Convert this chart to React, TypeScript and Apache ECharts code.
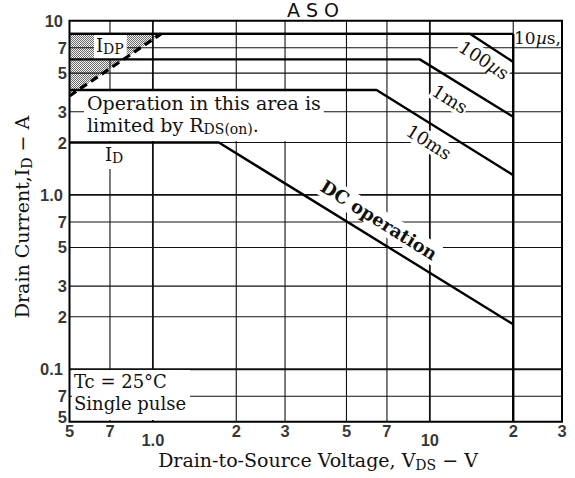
import React, { useEffect, useRef } from 'react';
import * as echarts from 'echarts';

// ---------- axis ranges & ticks ----------
const X_MIN = 0.5;
const X_MAX = 30;
const Y_MIN = 0.05;
const Y_MAX = 10;

const xTickValues = [0.5, 0.7, 1, 2, 3, 5, 7, 10, 20, 30];
const xTickLabels = ['5', '7', '1.0', '2', '3', '5', '7', '10', '2', '3'];
const yTickValues = [10, 7, 5, 3, 2, 1, 0.7, 0.5, 0.3, 0.2, 0.1, 0.07, 0.05];
const yTickLabels = ['10', '7', '5', '3', '2', '1.0', '7', '5', '3', '2', '0.1', '7', '5'];

const xGridValues = [0.7, 1, 2, 3, 5, 7, 10, 20];
const yGridValues = [7, 5, 3, 2, 1, 0.7, 0.5, 0.3, 0.2, 0.1, 0.07];

// ---------- SOA boundaries (VDS [V], ID [A]) ----------
const rdsOnLimit = [[0.5, 3.7], [1.07, 8.4]];
const rdsOnArea = [[0.5, 8.4], [1.07, 8.4], [0.5, 3.7]];
const pulse10us = [[0.5, 8.4], [20, 8.4]];
const pulse100us = [[0.5, 8.4], [14, 8.4], [20, 5.8]];
const pulse1ms = [[0.5, 6], [9.2, 6], [20, 2.81]];
const pulse10ms = [[0.5, 4], [6.42, 4], [20, 1.3]];
const dcOperation = [[0.5, 2], [1.73, 2], [20, 0.181]];
const vdssLimit = [[20, 8.4], [20, 0.05]];

const SERIF = '"DejaVu Serif", serif';
const SANS = '"Liberation Sans", Arial, sans-serif';

const isDecade = (v: number) => Math.abs(Math.log10(v) - Math.round(Math.log10(v))) < 1e-9;

function makeHatch(): any {
  const c = document.createElement('canvas');
  c.width = 2;
  c.height = 2;
  const ctx = c.getContext('2d');
  if (ctx) {
    ctx.fillStyle = '#f2f2f2';
    ctx.fillRect(0, 0, 2, 2);
    ctx.fillStyle = '#6a6a6a';
    ctx.fillRect(0, 0, 1, 1);
    ctx.fillRect(1, 1, 1, 1);
  }
  return { image: c.toDataURL(), repeat: 'repeat', imageWidth: 2, imageHeight: 2 };
}

function richSet(size: number, sub: number, lh: number, weight: string = 'normal') {
  return {
    n: { fontFamily: SERIF, fontSize: size, lineHeight: lh, fontWeight: weight, fill: '#111' },
    s: { fontFamily: SERIF, fontSize: sub, lineHeight: sub, verticalAlign: 'bottom', fontWeight: weight, fill: '#111' },
    i: { fontFamily: SERIF, fontSize: size, lineHeight: lh, fontStyle: 'italic', fontWeight: weight, fill: '#111' },
  };
}

function txt(x: number, y: number, text: string, opts: any = {}) {
  const { rotation = 0, align = 'center', vAlign = 'middle', size = 18, sub = 13, lh = 22, bg, padding, weight, z = 5 } = opts;
  return {
    type: 'text',
    x,
    y,
    rotation,
    z,
    style: {
      text,
      fill: '#111',
      font: `${size}px ${SERIF}`,
      align,
      verticalAlign: vAlign,
      textAlign: align,
      textVerticalAlign: vAlign,
      rich: richSet(size, sub, lh, weight),
      backgroundColor: bg,
      padding,
    },
  };
}

export default function App() {
  const ref = useRef<HTMLDivElement>(null);

  useEffect(() => {
    if (!ref.current) return;
    const chart = echarts.init(ref.current, undefined, { renderer: 'svg' });
    const hatch = makeHatch();

    const thickLine = (name: string, data: number[][], extra: any = {}) => ({
      name,
      type: 'line',
      data,
      symbol: 'none',
      clip: false,
      silent: true,
      z: 10,
      lineStyle: { color: '#000', width: 2.4, ...extra },
    });

    const gridSeries: any[] = [];
    xGridValues.forEach((v) => {
      gridSeries.push({
        type: 'line',
        data: [[v, Y_MIN], [v, Y_MAX]],
        symbol: 'none',
        silent: true,
        clip: false,
        z: 2,
        lineStyle: { color: '#111', width: isDecade(v) ? 1.8 : 1.1 },
      });
    });
    yGridValues.forEach((v) => {
      gridSeries.push({
        type: 'line',
        data: [[X_MIN, v], [X_MAX, v]],
        symbol: 'none',
        silent: true,
        clip: false,
        z: 2,
        lineStyle: { color: '#111', width: isDecade(v) ? 1.8 : 1.1 },
      });
    });

    const labelFont = { fontFamily: SANS, fontWeight: 'bold', fontSize: 16.5, color: '#000' };

    const option: any = {
      animation: false,
      backgroundColor: '#fff',
      grid: { left: 69.5, top: 20.7, width: 492.5, height: 401, show: true, borderColor: '#000', borderWidth: 2, z: 20 },
      xAxis: {
        type: 'log',
        logBase: 10,
        min: X_MIN,
        max: X_MAX,
        axisLine: { show: false },
        axisTick: { show: false },
        axisLabel: { show: false },
        splitLine: { show: false },
        minorSplitLine: { show: false },
      },
      yAxis: {
        type: 'log',
        logBase: 10,
        min: Y_MIN,
        max: Y_MAX,
        axisLine: { show: false },
        axisTick: { show: false },
        axisLabel: { show: false },
        splitLine: { show: false },
        minorSplitLine: { show: false },
      },
      series: [
        {
          type: 'custom',
          silent: true,
          clip: false,
          z: 1,
          data: [rdsOnArea[0]],
          renderItem: (_p: any, api: any) => ({
            type: 'polygon',
            shape: { points: rdsOnArea.map((pt) => api.coord(pt)) },
            style: { fill: hatch },
          }),
        },
        ...gridSeries,
        thickLine('RDS(on)', rdsOnLimit, { width: 3.2, type: [8, 5] }),
        thickLine('10us', pulse10us),
        thickLine('100us', pulse100us),
        thickLine('1ms', pulse1ms),
        thickLine('10ms', pulse10ms),
        thickLine('DC', dcOperation),
        thickLine('VDSS', vdssLimit),
        {
          type: 'scatter',
          symbolSize: 0,
          silent: true,
          clip: false,
          z: 12,
          data: xTickValues.map((v) => ({
            value: [v, Y_MIN],
            label: { distance: isDecade(v) ? 10 : 1 },
          })),
          label: {
            show: true,
            position: 'bottom',
            ...labelFont,
            formatter: (p: any) => xTickLabels[p.dataIndex],
          },
        },
        {
          type: 'scatter',
          symbolSize: 0,
          silent: true,
          clip: false,
          z: 12,
          data: yTickValues.map((v) => ({
            value: [X_MIN, v],
            label: { distance: isDecade(v) ? 6.5 : 2.5, offset: v === Y_MIN ? [0, -5] : [0, 0] },
          })),
          label: {
            show: true,
            position: 'left',
            ...labelFont,
            formatter: (p: any) => yTickLabels[p.dataIndex],
          },
        },
      ],
      graphic: [
        {
          type: 'text',
          x: 313,
          y: 10,
          z: 5,
          style: {
            text: 'A S O',
            font: `19px "DejaVu Sans", sans-serif`,
            fill: '#111',
            align: 'center',
            verticalAlign: 'middle',
            textAlign: 'center',
            textVerticalAlign: 'middle',
          },
        },
        txt(318, 460, '{n|Drain-to-Source Voltage, V}{s|DS}{n| − V}', { size: 19, sub: 14, lh: 24 }),
        txt(22, 217, '{n|Drain Current,I}{s|D}{n| − A}', { size: 19, sub: 14, lh: 24, rotation: Math.PI / 2 }),
        txt(94, 46, '{n|I}{s|DP}', { align: 'left', size: 18, sub: 14, lh: 22, bg: '#fff', padding: [1, 3, 3, 2] }),
        txt(84, 91, '{n|Operation in this area is}\n{n|limited by R}{s|DS(on)}{n|.}', {
          align: 'left', vAlign: 'top', size: 19, sub: 14, lh: 22, bg: '#fff', padding: [1, 3, 5, 3],
        }),
        txt(103, 156, '{n|I}{s|D}', { align: 'left', size: 18, sub: 14, lh: 22, bg: '#fff', padding: [0, 3, 4, 2] }),
        txt(379, 220, '{n|DC operation}', { size: 18, lh: 22, weight: 'bold', rotation: -32 * Math.PI / 180, bg: '#fff', padding: [0, 2] }),
        txt(429, 142, '{n|10ms}', { size: 18, lh: 20, rotation: -32 * Math.PI / 180, bg: '#fff', padding: [0, 1] }),
        txt(450, 99, '{n|1ms}', { size: 18, lh: 20, rotation: -32 * Math.PI / 180, bg: '#fff', padding: [0, 1] }),
        txt(484, 60, '{n|100}{i|µ}{n|s}', { size: 18, lh: 20, rotation: -33 * Math.PI / 180, bg: '#fff', padding: [0, 1] }),
        txt(514, 38, '{n|10}{i|µ}{n|s,}', { align: 'left', size: 17, lh: 20 }),
        txt(72, 370, '{n|Tc = 25°C}\n{n|Single pulse}', { align: 'left', vAlign: 'top', size: 18, lh: 22, bg: '#fff', padding: [0, 4, 6, 2] }),
      ],
    };

    chart.setOption(option);
    return () => chart.dispose();
  }, []);

  return (
    <div
      ref={ref}
      style={{ position: 'fixed', left: 0, top: 0, width: 575, height: 478, background: '#fff' }}
    />
  );
}
